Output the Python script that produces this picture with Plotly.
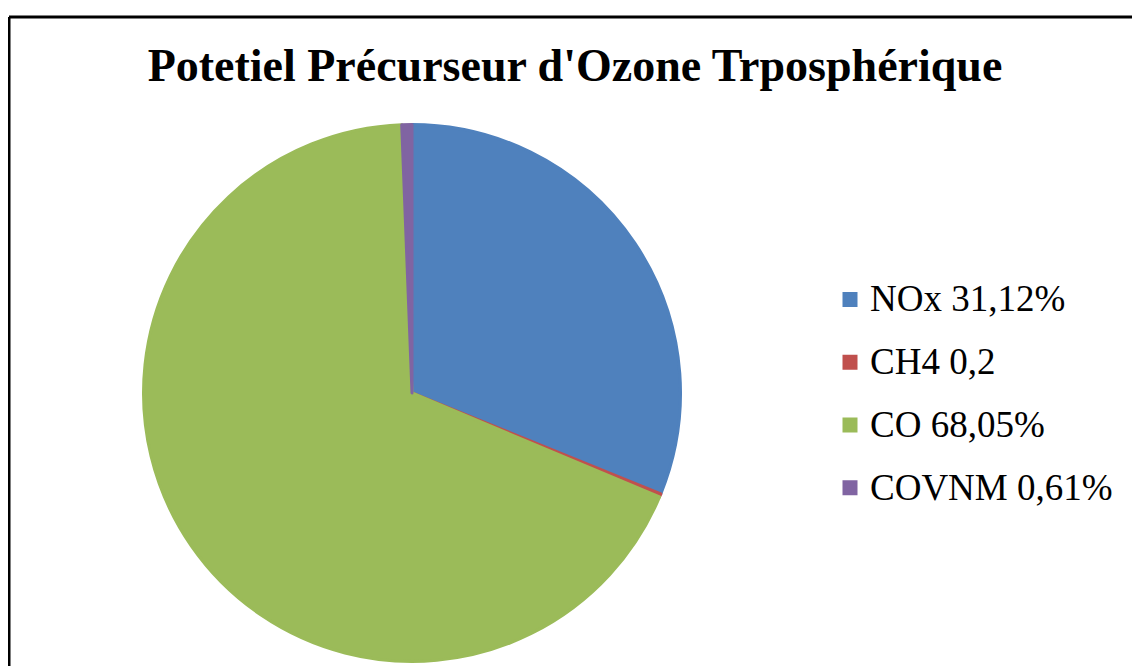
import plotly.graph_objects as go

# parts of ozone precursor potential (%)
gases = ["NOx", "CH4", "CO", "COVNM"]
shares = [31.12, 0.2, 68.05, 0.61]
legend_txt = ["NOx 31,12%", "CH4 0,2", "CO 68,05%", "COVNM 0,61%"]
colors = ["#4F81BD", "#C0504D", "#9BBB59", "#8064A2"]

# page has an 8px body margin, so the figure is a bit smaller than the window
W, H = 1132, 658

fig = go.Figure()
fig.add_trace(go.Pie(
    labels=[f"<span style='font-size:37px;baseline-shift:6px'>{t}</span>" for t in legend_txt],
    values=shares,
    customdata=gases,
    marker=dict(colors=colors, line=dict(color=colors, width=3)),
    sort=False,
    direction="clockwise",
    rotation=0,
    textinfo="none",
    hovertemplate="%{customdata}: %{value}%<extra></extra>",
    domain=dict(x=[135.5 / W, 672.5 / W], y=[1 - 653.5 / H, 1 - 116.5 / H]),
))

# frame lines (top and left only, as in the picture)
fig.add_shape(type="line", xref="paper", yref="paper",
              x0=1 / W, x1=1, y0=1 - 9 / H, y1=1 - 9 / H,
              line=dict(color="black", width=3))
fig.add_shape(type="line", xref="paper", yref="paper",
              x0=1 / W, x1=1 / W, y0=0, y1=1 - 9 / H,
              line=dict(color="black", width=3))

fig.update_layout(
    width=W, height=H,
    margin=dict(l=0, r=0, t=0, b=0),
    paper_bgcolor="white",
    plot_bgcolor="white",
    font=dict(family="Liberation Serif, Times New Roman, serif", color="black"),
    title=dict(text="<b>Potetiel Précurseur d'Ozone Trposphérique</b>",
               x=567 / W, xanchor="center", y=1 - 57 / H, yanchor="middle",
               font=dict(size=46, family="Liberation Serif, Times New Roman, serif", color="black")),
    showlegend=True,
    legend=dict(x=822 / W, xanchor="left", y=1 - 386 / H, yanchor="middle",
                font=dict(size=46, family="Liberation Serif, Times New Roman, serif", color="black"),
                bgcolor="rgba(0,0,0,0)"),
)

fig.write_html("out.html")
